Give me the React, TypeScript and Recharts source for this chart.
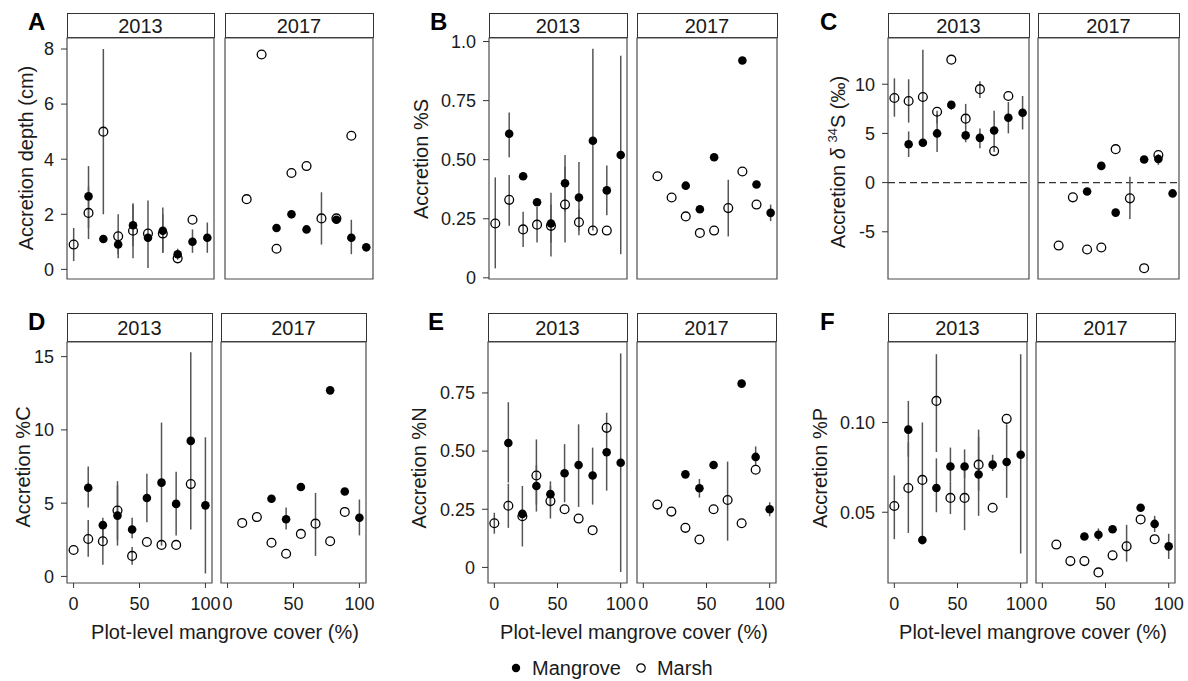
import React from 'react';
import { ScatterChart, Scatter, XAxis, YAxis, ErrorBar, ReferenceArea, ReferenceLine } from 'recharts';

type Num = number | null;
type Err = [number, number] | null;
const n = null;

// ---------- data ----------
const COVER = [0, 11.1, 22.2, 33.3, 44.4, 55.6, 66.7, 77.8, 88.9, 100];
const YEARS = ['2013', '2017'];
const X_TICKS = [0, 50, 100];
const SERIES_NAMES = ['Mangrove', 'Marsh'];

// A: accretion depth (cm)
const A13_MG: Num[] = [n, 2.65, 1.1, 0.9, 1.6, 1.15, 1.4, 0.55, 1.0, 1.15];
const A13_MG_ERR: Err[] = [n, [1.5, 3.0], n, [0.4, 1.05], [0.85, 2.35], n, [0.6, 2.0], [0.35, 0.75], [0.6, 1.45], [0.6, 1.7]];
const A13_MS: Num[] = [0.9, 2.05, 5.0, 1.2, 1.4, 1.3, 1.3, 0.4, 1.8, n];
const A13_MS_ERR: Err[] = [[0.3, 1.5], [1.1, 3.75], [2.0, 8.0], [0.55, 2.0], [0.4, 2.4], [0.05, 2.5], [0.6, 2.25], n, n, n];
const A17_MG: Num[] = [n, n, n, 1.5, 2.0, 1.45, n, 1.8, 1.15, 0.8];
const A17_MG_ERR: Err[] = [n, n, n, n, [1.85, 2.15], n, n, n, [0.55, 1.8], n];
const A17_MS: Num[] = [n, 2.55, 7.8, 0.75, 3.5, 3.75, 1.85, 1.85, 4.85, n];
const A17_MS_ERR: Err[] = [n, n, n, n, n, n, [0.9, 2.8], n, n, n];
const A_TICKS = [0, 2, 4, 6, 8];
const A_TICK_LABELS = ['0', '2', '4', '6', '8'];

// B: accretion %S
const B13_MG: Num[] = [n, 0.61, 0.43, 0.32, 0.23, 0.40, 0.34, 0.58, 0.37, 0.52];
const B13_MG_ERR: Err[] = [n, [0.51, 0.70], n, n, [0.09, 0.36], [0.28, 0.52], [0.2, 0.49], [0.2, 0.97], [0.265, 0.475], [0.1, 0.94]];
const B13_MS: Num[] = [0.23, 0.33, 0.205, 0.225, 0.22, 0.31, 0.235, 0.20, 0.20, n];
const B13_MS_ERR: Err[] = [[0.04, 0.425], [0.22, 0.435], [0.13, 0.28], [0.15, 0.30], [0.15, 0.31], [0.15, 0.47], [0.18, 0.29], n, n, n];
const B17_MG: Num[] = [n, n, n, 0.39, 0.29, 0.51, n, 0.92, 0.395, 0.275];
const B17_MG_ERR: Err[] = [n, n, n, n, n, n, n, n, n, [0.24, 0.31]];
const B17_MS: Num[] = [n, 0.43, 0.34, 0.26, 0.19, 0.20, 0.295, 0.45, 0.31, n];
const B17_MS_ERR: Err[] = [n, n, n, n, n, n, [0.175, 0.415], n, n, n];
const B_TICKS = [0, 0.25, 0.5, 0.75, 1.0];
const B_TICK_LABELS = ['0', '0.25', '0.50', '0.75', '1.0'];

// C: accretion d34S (permil)
const C13_MG: Num[] = [n, 3.9, 4.05, 5.0, 7.9, 4.8, 4.55, 5.3, 6.6, 7.1];
const C13_MG_ERR: Err[] = [n, [2.6, 5.2], n, [3.1, 7.0], [7.4, 8.3], n, [3.5, 5.5], [3.1, 7.3], [5.0, 8.2], [5.4, 8.8]];
const C13_MS: Num[] = [8.6, 8.3, 8.7, 7.2, 12.5, 6.5, 9.5, 3.2, 8.8, n];
const C13_MS_ERR: Err[] = [[6.7, 10.6], [6.1, 10.5], [4.0, 13.5], [6.0, 7.3], n, [4.1, 8.0], [8.6, 10.3], n, n, n];
const C17_MG: Num[] = [n, n, n, -0.9, 1.7, -3.05, n, 2.35, 2.4, -1.1];
const C17_MG_ERR: Err[] = [n, n, n, n, n, n, n, n, [1.8, 2.9], n];
const C17_MS: Num[] = [n, -6.4, -1.5, -6.8, -6.6, 3.4, -1.6, -8.7, 2.8, n];
const C17_MS_ERR: Err[] = [n, n, n, n, n, n, [-3.7, 0.6], n, n, n];
const C_TICKS = [-5, 0, 5, 10];
const C_TICK_LABELS = ['-5', '0', '5', '10'];

// D: accretion %C
const D13_MG: Num[] = [n, 6.05, 3.5, 4.15, 3.2, 5.35, 6.4, 4.95, 9.25, 4.85];
const D13_MG_ERR: Err[] = [n, [4.7, 7.5], [2.3, 4.0], [2.1, 6.2], [2.6, 4.0], [3.7, 7.0], [2.1, 10.5], [2.8, 7.15], [3.2, 15.3], [0.2, 9.5]];
const D13_MS: Num[] = [1.8, 2.55, 2.4, 4.5, 1.4, 2.35, 2.15, 2.15, 6.3, n];
const D13_MS_ERR: Err[] = [n, [1.35, 3.85], [0.8, 3.6], [2.5, 6.5], [0.8, 2.0], n, n, n, n, n];
const D17_MG: Num[] = [n, n, n, 5.3, 3.9, 6.1, n, 12.7, 5.8, 4.0];
const D17_MG_ERR: Err[] = [n, n, n, n, [3.2, 4.7], n, n, n, n, [2.8, 5.25]];
const D17_MS: Num[] = [n, 3.65, 4.05, 2.3, 1.55, 2.9, 3.6, 2.4, 4.4, n];
const D17_MS_ERR: Err[] = [n, n, n, n, n, n, [1.4, 5.7], n, n, n];
const D_TICKS = [0, 5, 10, 15];
const D_TICK_LABELS = ['0', '5', '10', '15'];

// E: accretion %N
const E13_MG: Num[] = [n, 0.535, 0.23, 0.35, 0.315, 0.405, 0.44, 0.395, 0.495, 0.45];
const E13_MG_ERR: Err[] = [n, [0.365, 0.71], [0.09, 0.35], [0.24, 0.44], [0.26, 0.37], [0.28, 0.53], [0.26, 0.615], [0.27, 0.515], [0.33, 0.665], [-0.02, 0.92]];
const E13_MS: Num[] = [0.19, 0.265, 0.22, 0.395, 0.285, 0.25, 0.21, 0.16, 0.60, n];
const E13_MS_ERR: Err[] = [[0.145, 0.235], [0.17, 0.36], n, [0.27, 0.55], [0.21, 0.35], n, n, n, n, n];
const E17_MG: Num[] = [n, n, n, 0.40, 0.34, 0.44, n, 0.79, 0.475, 0.25];
const E17_MG_ERR: Err[] = [n, n, n, n, [0.30, 0.38], n, n, n, [0.44, 0.52], [0.22, 0.28]];
const E17_MS: Num[] = [n, 0.27, 0.24, 0.17, 0.12, 0.25, 0.29, 0.19, 0.42, n];
const E17_MS_ERR: Err[] = [n, n, n, n, n, n, [0.115, 0.455], n, n, n];
const E_TICKS = [0, 0.25, 0.5, 0.75];
const E_TICK_LABELS = ['0', '0.25', '0.50', '0.75'];

// F: accretion %P
const F13_MG: Num[] = [n, 0.096, 0.0345, 0.0635, 0.0755, 0.0755, 0.071, 0.0765, 0.078, 0.082];
const F13_MG_ERR: Err[] = [n, [0.081, 0.112], n, [0.05, 0.08], [0.067, 0.086], [0.069, 0.085], [0.062, 0.092], [0.073, 0.082], [0.058, 0.099], [0.027, 0.138]];
const F13_MS: Num[] = [0.0535, 0.0635, 0.068, 0.112, 0.058, 0.058, 0.0765, 0.0525, 0.102, n];
const F13_MS_ERR: Err[] = [[0.035, 0.0705], [0.0385, 0.089], [0.035, 0.1], [0.0835, 0.138], [0.049, 0.067], [0.04, 0.076], [0.048, 0.096], n, n, n];
const F17_MG: Num[] = [n, n, n, 0.0365, 0.0375, 0.0405, n, 0.0525, 0.0435, 0.031];
const F17_MG_ERR: Err[] = [n, n, n, n, [0.034, 0.041], n, n, n, [0.039, 0.048], [0.024, 0.038]];
const F17_MS: Num[] = [n, 0.032, 0.0228, 0.0228, 0.0165, 0.026, 0.031, 0.046, 0.035, n];
const F17_MS_ERR: Err[] = [n, n, n, n, n, n, [0.0225, 0.043], n, n, n];
const F_TICKS = [0.05, 0.10];
const F_TICK_LABELS = ['0.05', '0.10'];

// ---------- helpers ----------
function toPoints(vals: Num[], errs: Err[]) {
  const out: any[] = [];
  vals.forEach((v, i) => {
    if (v == null) return;
    const e = errs[i];
    out.push({ x: COVER[i], y: v, err: e ? [v - e[0], e[1] - v] : [0, 0] });
  });
  return out;
}

const FONT = '"Liberation Sans", Arial, Helvetica, sans-serif';
const TXT = '#1a1a1a';

const filledDot = (p: any) => <circle cx={p.cx} cy={p.cy} r={4.3} fill="#000" />;
const openDot = (p: any) => <circle cx={p.cx} cy={p.cy} r={4.4} fill="none" stroke="#000" strokeWidth={1.3} />;

type FacetProps = {
  left: number; top: number; width: number; height: number; stripTop: number;
  yAxis: boolean; xLabels: boolean; domain: [number, number]; ticks: number[]; labels: string[];
  dashed: boolean; year: string;
  mg: Num[]; mgErr: Err[]; ms: Num[]; msErr: Err[];
};

function Facet(props: FacetProps) {
  const { left, top, width, height, stripTop, yAxis, xLabels, domain, ticks, labels, dashed, year } = props;
  const YW = 70;
  const XH = xLabels ? 44 : 10;
  const MT = 12;
  const MR = 22;
  const ml = yAxis ? 0 : 2;
  const chartLeft = left - (yAxis ? YW : 2);
  const fmt = (v: number) => {
    const i = ticks.indexOf(v);
    return i >= 0 ? labels[i] : String(v);
  };
  return (
    <>
      <div
        style={{
          position: 'absolute', left: left - 0.5, top: stripTop, width: width + 1, height: top - stripTop,
          boxSizing: 'border-box', border: '1px solid #333', background: '#fff',
          display: 'flex', alignItems: 'center', justifyContent: 'center', fontSize: 20, color: TXT, lineHeight: 1,
        }}
      >
        {year}
      </div>
      <div style={{ position: 'absolute', left: chartLeft, top: top - MT }}>
        <ScatterChart
          width={(yAxis ? YW : 2) + width + MR}
          height={MT + height + XH}
          margin={{ top: MT, right: MR, bottom: 0, left: ml }}
        >
          <XAxis
            type="number" dataKey="x" domain={[-5, 105]} ticks={X_TICKS} allowDataOverflow interval={0}
            axisLine={false} tickSize={5} tickMargin={9} height={XH}
            tickLine={{ stroke: '#333', strokeWidth: 1 }}
            tick={xLabels ? { fill: TXT, fontSize: 18 } : false}
          />
          <YAxis
            type="number" dataKey="y" domain={domain} ticks={ticks} allowDataOverflow interval={0}
            hide={!yAxis} width={YW} axisLine={false} tickSize={6} tickMargin={7}
            tickFormatter={fmt} tick={{ fill: TXT, fontSize: 18 }}
            tickLine={{ stroke: '#333', strokeWidth: 1 }}
          />
          <ReferenceArea
            x1={-5} x2={105} y1={domain[0]} y2={domain[1]}
            fill="none" fillOpacity={0} stroke="#4d4d4d" strokeWidth={1.2} ifOverflow="visible"
          />
          {dashed && <ReferenceLine y={0} stroke="#333" strokeDasharray="7 4" strokeWidth={1.3} />}
          <Scatter name={SERIES_NAMES[1]} data={toPoints(props.ms, props.msErr)} isAnimationActive={false} shape={openDot}>
            <ErrorBar dataKey="err" direction="y" width={0} stroke="#555" strokeWidth={1.5} isAnimationActive={false} />
          </Scatter>
          <Scatter name={SERIES_NAMES[0]} data={toPoints(props.mg, props.mgErr)} isAnimationActive={false} shape={filledDot}>
            <ErrorBar dataKey="err" direction="y" width={0} stroke="#555" strokeWidth={1.5} isAnimationActive={false} />
          </Scatter>
        </ScatterChart>
      </div>
    </>
  );
}

type PanelProps = {
  letter: string; letterX: number; title: React.ReactNode; titleX: number; titleY: number;
  l1: number; w1: number; l2: number; w2: number; top: number; stripTop: number; height: number;
  xLabels: boolean; xTitleX?: number; domain: [number, number]; ticks: number[]; labels: string[]; dashed?: boolean;
  d13: [Num[], Err[], Num[], Err[]]; d17: [Num[], Err[], Num[], Err[]];
};

function Panel(p: PanelProps) {
  const common = { top: p.top, height: p.height, stripTop: p.stripTop, xLabels: p.xLabels, domain: p.domain, ticks: p.ticks, labels: p.labels, dashed: !!p.dashed };
  return (
    <>
      <div style={{ position: 'absolute', left: p.letterX, top: p.stripTop - 3, fontSize: 24, fontWeight: 'bold', lineHeight: 1, color: '#000' }}>
        {p.letter}
      </div>
      <div
        style={{
          position: 'absolute', left: p.titleX, top: p.titleY, transform: 'translate(-50%, -50%) rotate(-90deg)',
          whiteSpace: 'nowrap', fontSize: 20, lineHeight: 1, color: TXT,
        }}
      >
        {p.title}
      </div>
      <Facet {...common} left={p.l1} width={p.w1} yAxis={true} year={YEARS[0]} mg={p.d13[0]} mgErr={p.d13[1]} ms={p.d13[2]} msErr={p.d13[3]} />
      <Facet {...common} left={p.l2} width={p.w2} yAxis={false} year={YEARS[1]} mg={p.d17[0]} mgErr={p.d17[1]} ms={p.d17[2]} msErr={p.d17[3]} />
      {p.xLabels && (
        <div
          style={{
            position: 'absolute', left: p.xTitleX, top: 622, transform: 'translateX(-50%)', whiteSpace: 'nowrap',
            fontSize: 20, lineHeight: '20px', color: TXT,
          }}
        >
          Plot-level mangrove cover (%)
        </div>
      )}
    </>
  );
}

export default function App() {
  const row1 = { top: 38, stripTop: 13, height: 241 };
  const row2 = { top: 342, stripTop: 313, height: 241 };
  return (
    <div style={{ position: 'absolute', left: 0, top: 0, width: 1188, height: 681, background: '#fff', fontFamily: FONT, overflow: 'hidden' }}>
      <Panel letter="A" letterX={28} title="Accretion depth (cm)" titleX={26} titleY={158}
        l1={67} w1={147} l2={225} w2={148} {...row1} xLabels={false}
        domain={[-0.35, 8.4]} ticks={A_TICKS} labels={A_TICK_LABELS}
        d13={[A13_MG, A13_MG_ERR, A13_MS, A13_MS_ERR]} d17={[A17_MG, A17_MG_ERR, A17_MS, A17_MS_ERR]} />
      <Panel letter="B" letterX={430} title="Accretion %S" titleX={421} titleY={159}
        l1={489} w1={138} l2={637} w2={140} {...row1} xLabels={false}
        domain={[-0.005, 1.015]} ticks={B_TICKS} labels={B_TICK_LABELS}
        d13={[B13_MG, B13_MG_ERR, B13_MS, B13_MS_ERR]} d17={[B17_MG, B17_MG_ERR, B17_MS, B17_MS_ERR]} />
      <Panel letter="C" letterX={820}
        title={<span>Accretion <i>δ</i> <span style={{ fontSize: 13, verticalAlign: 'super', lineHeight: 0 }}>34</span>S (‰)</span>}
        titleX={838} titleY={162}
        l1={888} w1={141} l2={1038} w2={141} {...row1} xLabels={false}
        domain={[-9.8, 14.7]} ticks={C_TICKS} labels={C_TICK_LABELS} dashed
        d13={[C13_MG, C13_MG_ERR, C13_MS, C13_MS_ERR]} d17={[C17_MG, C17_MG_ERR, C17_MS, C17_MS_ERR]} />
      <Panel letter="D" letterX={28} title="Accretion %C" titleX={23} titleY={467}
        l1={67} w1={145} l2={221} w2={145} {...row2} xLabels={true} xTitleX={225}
        domain={[-0.45, 16.0]} ticks={D_TICKS} labels={D_TICK_LABELS}
        d13={[D13_MG, D13_MG_ERR, D13_MS, D13_MS_ERR]} d17={[D17_MG, D17_MG_ERR, D17_MS, D17_MS_ERR]} />
      <Panel letter="E" letterX={428} title="Accretion %N" titleX={419} titleY={468}
        l1={488} w1={139} l2={637} w2={139} {...row2} xLabels={true} xTitleX={634}
        domain={[-0.067, 0.969]} ticks={E_TICKS} labels={E_TICK_LABELS}
        d13={[E13_MG, E13_MG_ERR, E13_MS, E13_MS_ERR]} d17={[E17_MG, E17_MG_ERR, E17_MS, E17_MS_ERR]} />
      <Panel letter="F" letterX={820} title="Accretion %P" titleX={820} titleY={468}
        l1={888} w1={139} l2={1036} w2={139} {...row2} xLabels={true} xTitleX={1033}
        domain={[0.0106, 0.1448]} ticks={F_TICKS} labels={F_TICK_LABELS}
        d13={[F13_MG, F13_MG_ERR, F13_MS, F13_MS_ERR]} d17={[F17_MG, F17_MG_ERR, F17_MS, F17_MS_ERR]} />
      <div style={{ position: 'absolute', left: 510, top: 658, height: 20, display: 'flex', alignItems: 'center', fontSize: 20, color: TXT, whiteSpace: 'nowrap' }}>
        <svg width={12} height={12} style={{ marginRight: 10 }}><circle cx={6} cy={6} r={4.2} fill="#000" /></svg>
        <span style={{ marginRight: 14 }}>{SERIES_NAMES[0]}</span>
        <svg width={12} height={12} style={{ marginRight: 10 }}><circle cx={6} cy={6} r={4.2} fill="none" stroke="#000" strokeWidth={1.2} /></svg>
        <span>{SERIES_NAMES[1]}</span>
      </div>
    </div>
  );
}
